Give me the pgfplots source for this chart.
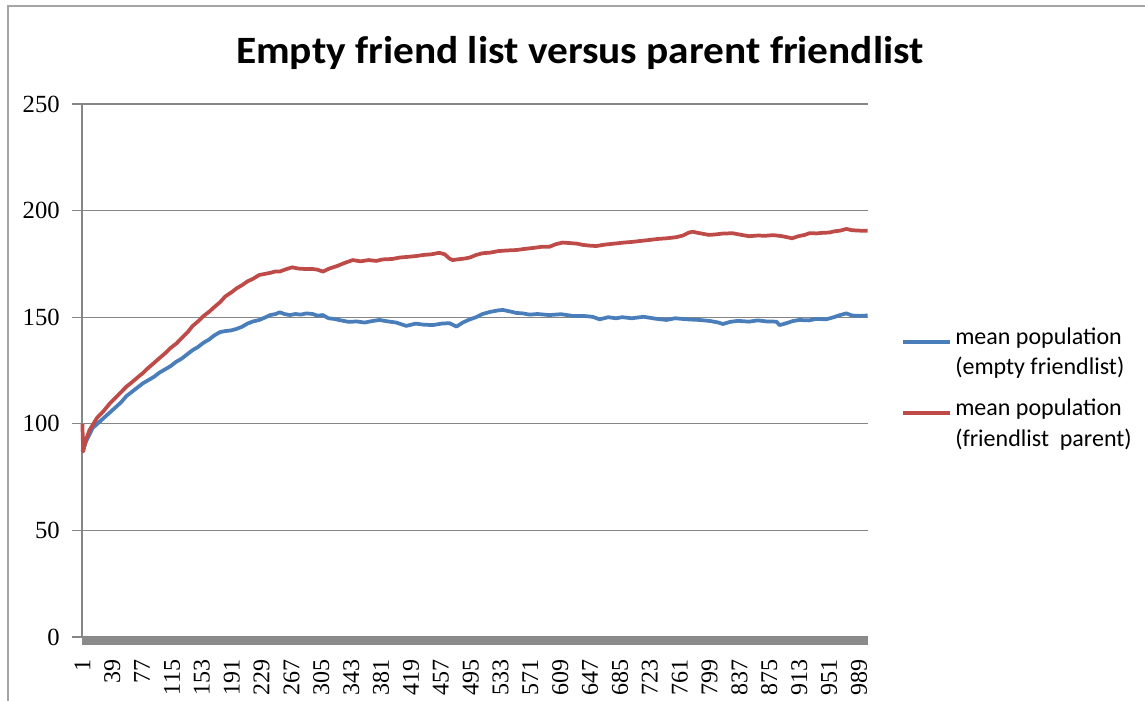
\documentclass[border=0pt]{standalone}
\usepackage{pgfplots}
\pgfplotsset{compat=1.18}
\usepackage{fontspec}
\setmainfont{Carlito}
\newfontfamily\tickfont{Liberation Serif}

\definecolor{serBlue}{RGB}{74,126,187}
\definecolor{serRed}{RGB}{190,75,72}
\definecolor{gridGray}{RGB}{134,134,134}
\definecolor{bandGray}{RGB}{138,138,138}
\definecolor{frameGray}{RGB}{165,165,165}

\begin{document}
\begin{tikzpicture}
% page area
\path[use as bounding box, fill=white] (-61.5pt,-47.25pt) rectangle (797.25pt,477.75pt);
% chart border
\draw[frameGray, line width=1.1pt] (-55.5pt,-60pt) -- (-55.5pt,473.25pt) -- (820pt,473.25pt);

\begin{axis}[
  scale only axis,
  width=589.5pt, height=399.75pt,
  xmin=0.5, xmax=1000.5,
  ymin=0, ymax=250,
  axis x line*=bottom, axis y line*=left,
  x axis line style={draw=none},
  y axis line style={draw=gridGray, line width=0.8pt},
  xtick={1,39,...,989},
  ytick={0,50,...,250},
  xtick style={draw=none},
  ytick style={draw=gridGray, line width=0.8pt},
  tick align=outside,
  major tick length=7.5pt,
  ymajorgrids,
  grid style={gridGray, line width=0.8pt},
  /pgf/number format/assume math mode=true,
  /pgf/number format/1000 sep={},
  yticklabel style={font=\tickfont\fontsize{18.5}{20}\selectfont, anchor=east, inner sep=0pt, xshift=-9pt},
  xticklabel style={font=\tickfont\fontsize{18}{20}\selectfont, yshift=-9.5pt, rotate=90, anchor=east, inner sep=0pt},
  clip=false,
]
% category axis band
\fill[bandGray] (axis cs:0.5,0) rectangle ([yshift=-6pt]axis cs:1000.5,0);

% mean population, empty friendlist
\addplot[serBlue, line width=2.8pt, line join=round] table {
x y
1 87
3 89
6 92
10 95
14 98
20 100
26 102
32 104
38 106
44 108
50 110
57 113
64 115
71 117
78 119
85 120.5
92 122
99 124
106 125.5
113 127
120 129
127 130.5
134 132.5
141 134.5
148 136
155 138
162 139.5
169 141.5
176 143
183 143.5
190 143.8
197 144.5
204 145.5
211 147
218 148
226 148.7
233 149.8
240 151
247 151.5
252 152.3
258 151.5
265 151
272 151.5
279 151.2
286 151.8
294 151.5
300 150.7
307 151
314 149.5
321 149.2
330 148.5
340 147.8
350 148
360 147.5
370 148.2
379 148.7
390 148
400 147.5
413 145.9
425 147
435 146.5
447 146.3
458 147
468 147.2
477 145.6
485 147.5
494 149
502 150
510 151.5
520 152.5
530 153.2
536 153.4
545 152.7
553 152
561 151.8
570 151.2
580 151.5
595 151
610 151.4
625 150.6
638 150.6
650 150.2
659 149
670 150
680 149.5
688 150
700 149.5
715 150.2
730 149.3
744 148.7
755 149.5
770 149
786 148.7
800 148.2
810 147.5
816 146.8
825 147.8
835 148.3
849 147.9
860 148.5
872 148
884 147.9
888 146.3
895 147
905 148.2
913 148.7
925 148.5
935 149.2
947 149
957 150
965 151
973 151.8
980 150.8
990 150.6
1000 150.8
};

% mean population, friendlist parent
\addplot[serRed, line width=2.8pt, line join=round] table {
x y
1 100
2 87
5 92
10 97
15 100
20 103
28 106
36 109.6
44 112.5
50 114.8
57 117.4
64 119.5
71 121.7
78 123.8
85 126.3
92 128.5
99 130.8
106 133
113 135.5
121 137.8
128 140.5
135 143
141 145.8
148 148
155 150.5
162 152.5
169 154.8
176 157
183 159.8
190 161.5
197 163.5
204 165
211 166.8
218 168
226 169.8
233 170.3
240 170.8
247 171.5
252 171.4
260 172.5
268 173.4
276 172.8
285 172.6
294 172.6
300 172.3
307 171.4
315 172.8
325 174
335 175.5
345 176.8
355 176.2
365 176.8
375 176.4
383 177.1
395 177.3
405 178
415 178.3
426 178.7
435 179.2
445 179.5
455 180.2
462 179.5
468 177.5
472 176.8
480 177.2
487 177.5
494 178
502 179.2
510 180
520 180.3
530 181
541 181.3
553 181.5
563 182
575 182.5
585 183
595 183
603 184.2
612 185
620 184.8
630 184.5
638 183.9
648 183.5
655 183.4
665 184
672 184.3
680 184.6
690 185
700 185.3
712 185.8
722 186.2
733 186.7
744 187
756 187.5
765 188.3
772 189.6
777 190.1
785 189.5
792 189
798 188.6
806 188.8
815 189.2
828 189.4
838 188.7
849 188
860 188.3
870 188.2
880 188.5
891 188
898 187.5
904 187
912 188
920 188.6
926 189.4
935 189.3
943 189.6
951 189.7
958 190.3
965 190.6
973 191.4
980 190.8
990 190.6
1000 190.5
};
\end{axis}

% title
\node[anchor=base, font=\bfseries\fontsize{29}{34}\selectfont, xscale=1.07] at (373.5pt,430.3pt)
  {Empty friend list versus parent friendlist};

% legend
\begin{scope}[every node/.style={anchor=mid west, inner sep=0pt, font=\fontsize{18}{21}\selectfont}]
  \draw[serBlue, line width=2.8pt] (615.75pt,221.25pt) -- (651pt,221.25pt);
  \node at (654.75pt,222pt) {mean population};
  \node at (654.75pt,199pt) {(empty friendlist)};
  \draw[serRed, line width=2.8pt] (615.75pt,168pt) -- (651pt,168pt);
  \node at (654.75pt,168.5pt) {mean population};
  \node at (654.75pt,145.5pt) {(friendlist\ \ parent)};
\end{scope}
\end{tikzpicture}
\end{document}
